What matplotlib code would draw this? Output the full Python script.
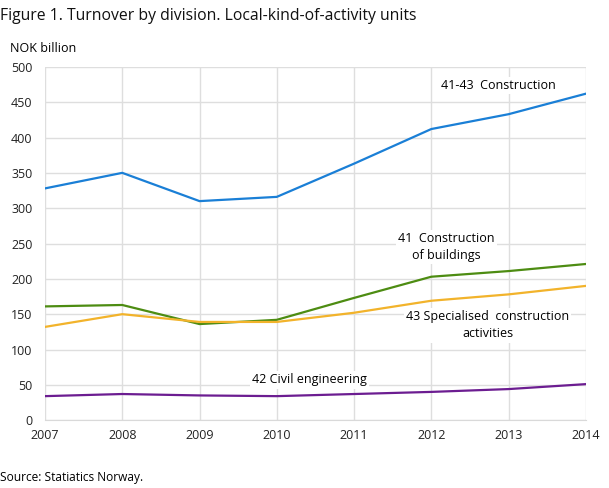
import matplotlib
matplotlib.use("Agg")
import matplotlib.pyplot as plt

plt.rcParams['font.family'] = ['Open Sans', 'DejaVu Sans']

years = [2007, 2008, 2009, 2010, 2011, 2012, 2013, 2014]
construction = [328, 350, 310, 316, 363, 412, 433, 462]
buildings = [161, 163, 136, 142, 173, 203, 211, 221]
specialised = [132, 150, 139, 139, 152, 169, 178, 190]
civil = [34, 37, 35, 34, 37, 40, 44, 51]
yticks = [0, 50, 100, 150, 200, 250, 300, 350, 400, 450, 500]

fig = plt.figure(figsize=(6.09, 4.88), dpi=100)
ax = fig.add_axes([0.0739, 0.139, 0.888, 0.724])

ax.plot(years, construction, color='#1a7fd6', lw=1.6, zorder=3)
ax.plot(years, buildings, color='#4d8c12', lw=1.6, zorder=3)
ax.plot(years, specialised, color='#f2b32b', lw=1.6, zorder=3)
ax.plot(years, civil, color='#6c1d91', lw=1.6, zorder=3)

ax.set_xlim(2007, 2014)
ax.set_ylim(0, 500)
ax.set_xticks(years)
ax.set_yticks(yticks)
ax.grid(True, color='#dedede', lw=1)
ax.set_axisbelow(True)
for s in ['top', 'right', 'left']:
    ax.spines[s].set_visible(False)
ax.spines['bottom'].set_color('#d9d9d9')
ax.tick_params(length=0, labelsize=9, colors='#222222', pad=6)
ax.tick_params(axis='y', pad=9)

box = dict(facecolor='white', edgecolor='none', pad=1.5)
ax.text(2012.87, 474, '41-43  Construction', ha='center', va='center', fontsize=9, bbox=box, zorder=4)
ax.text(2012.2, 245, '41  Construction\nof buildings', ha='center', va='center', fontsize=9,
        bbox=box, linespacing=1.4, zorder=4)
ax.text(2012.73, 134, '43 Specialised  construction\nactivities', ha='center', va='center', fontsize=9,
        bbox=box, linespacing=1.4, zorder=4)
ax.text(2010.42, 57, '42 Civil engineering', ha='center', va='center', fontsize=9, bbox=box, zorder=4)

fig.text(0.0, 1 - 16 / 488, 'Figure 1. Turnover by division. Local-kind-of-activity units', fontsize=11.3,
         family=['Liberation Sans Narrow', 'Open Sans', 'DejaVu Sans'], va='center', ha='left',
         color='#111111')
fig.text(10 / 609, 1 - 48 / 488, 'NOK billion', fontsize=9, va='center', ha='left')
fig.text(0.0, 1 - 478 / 488, 'Source: Statiatics Norway.', fontsize=8.6, va='center', ha='left')

fig.savefig('out.png', dpi=100)
